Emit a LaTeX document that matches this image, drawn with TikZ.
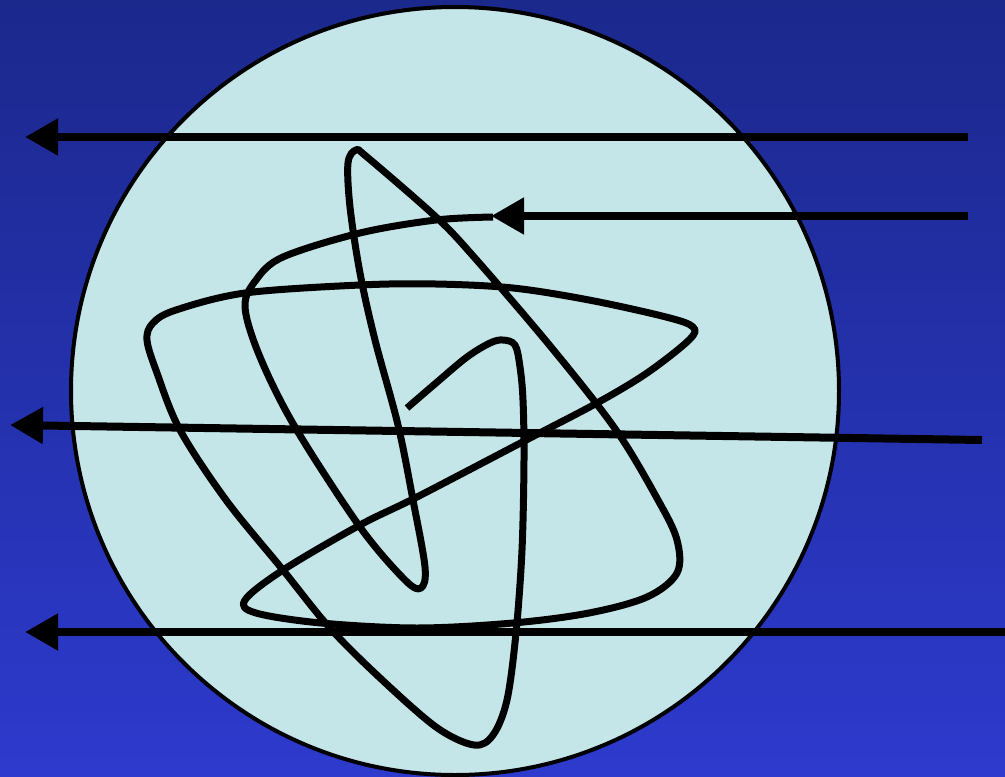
\documentclass[tikz,border=0pt]{standalone}
\usetikzlibrary{arrows.meta}
\definecolor{bgtop}{RGB}{27,40,140}
\definecolor{bgbot}{RGB}{45,58,205}
\definecolor{disc}{RGB}{196,230,232}
\tikzset{
  beam/.style={line width=8pt, -{Triangle[length=33pt,width=35pt]}},
  chain/.style={line width=7pt, line join=round, line cap=butt},
}
\begin{document}
\begin{tikzpicture}[x=1pt,y=-1pt]
\useasboundingbox (0,0) rectangle (1005,777);
\shade[top color=bgtop, bottom color=bgbot] (0,0) rectangle (1005,777);
\draw[line width=4pt, fill=disc] (455,391) circle[radius=384];
\draw[chain] plot[smooth, tension=0.55] coordinates {
(407,408) (436,383) (467,357) (490,343) (503,340) (515,345) (520,367) (523,400) (524,460) (522,550) (516,633) (507,700) (493,735) (474,745) (436,727) (379,677) (329,627) (283,570) (226,500) (180,430) (157,373) (147,340) (153,323) (176,310) (245,293) (360,285) (436,284) (513,288) (589,300) (666,317) (693,327) (689,340) (647,373) (597,403) (532,437) (417,497) (360,525) (283,570) (245,600) (256,613) (321,623) (417,628) (513,623) (589,613) (647,597) (677,573) (677,540) (658,500) (616,430) (551,347) (474,257) (436,217) (367,157) (356,150) (348,163) (350,207) (360,273) (375,340) (398,425) (413,500) (425,567) (421,588) (405,580) (360,527) (295,427) (260,357) (245,307) (256,280) (283,257) (360,233) (436,220) (493,217)};
\coordinate (a1s) at (968,137); \coordinate (a1e) at (25,137);
\coordinate (a2s) at (968,216); \coordinate (a2e) at (491,216);
\coordinate (a3s) at (982,440); \coordinate (a3e) at (10,425);
\coordinate (a4s) at (1005,632); \coordinate (a4e) at (25,632);
\draw[beam] (a1s) -- (a1e);
\draw[beam] (a2s) -- (a2e);
\draw[beam] (a3s) -- (a3e);
\draw[beam] (a4s) -- (a4e);
\end{tikzpicture}
\end{document}
